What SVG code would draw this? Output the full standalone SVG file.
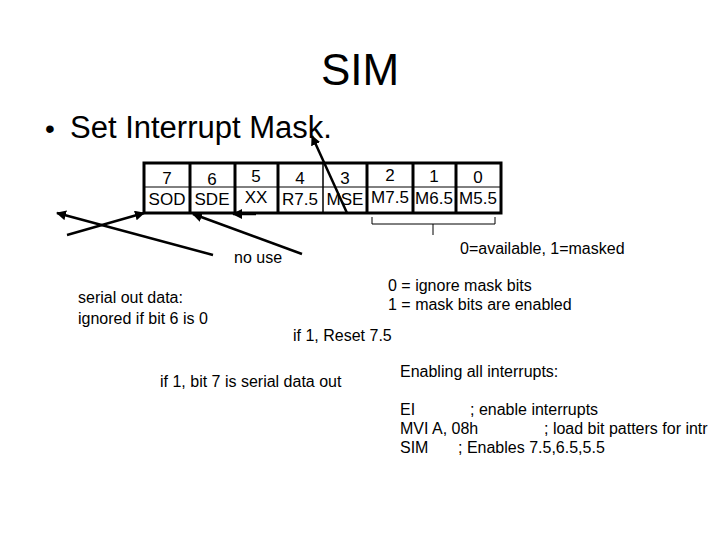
<svg xmlns="http://www.w3.org/2000/svg" width="720" height="540" viewBox="0 0 720 540">
<style>
text{font-family:"Liberation Sans",Arial,sans-serif;fill:#000}
.s{font-size:16px}
.b{font-size:17px;text-anchor:middle}
.ln{stroke:#000;stroke-width:2.5;fill:none}
.box{fill:#fff;stroke:#000;stroke-width:3}
</style>
<defs>
<marker id="ah" viewBox="0 0 10 10" refX="9" refY="5" markerWidth="4" markerHeight="4" orient="auto">
<path d="M0,0 L10,5 L0,10 z" fill="#000"/>
</marker>
</defs>
<rect width="720" height="540" fill="#fff"/>
<text x="360" y="85" font-size="44" text-anchor="middle">SIM</text>
<text x="45" y="138" font-size="28">•</text>
<text x="70" y="138" font-size="31">Set Interrupt Mask.</text>

<g id="register">
<rect class="box" x="144" y="163" width="357" height="50"/>
<line x1="144" y1="187" x2="501" y2="187" stroke="#000" stroke-width="1"/>
<g stroke="#000" stroke-width="3">
<line x1="190" y1="163" x2="190" y2="213"/>
<line x1="235" y1="163" x2="235" y2="213"/>
<line x1="278" y1="163" x2="278" y2="213"/>
<line x1="367" y1="163" x2="367" y2="213"/>
<line x1="413" y1="163" x2="413" y2="213"/>
<line x1="456" y1="163" x2="456" y2="213"/>
</g>
<line x1="323" y1="163" x2="323" y2="213" stroke="#000" stroke-width="1.5"/>
</g>
<g id="bit7"><text class="b" x="167" y="184">7</text><text class="b" x="167" y="205">SOD</text></g>
<g id="bit6"><text class="b" x="212" y="185">6</text><text class="b" x="212" y="205">SDE</text></g>
<g id="bit5"><text class="b" x="256" y="182">5</text><text class="b" x="256" y="203">XX</text></g>
<g id="bit4"><text class="b" x="300" y="184">4</text><text class="b" x="300" y="205">R7.5</text></g>
<g id="bit3"><text class="b" x="345" y="184">3</text><text class="b" x="345" y="205">MSE</text></g>
<g id="bit2"><text class="b" x="390" y="181">2</text><text class="b" x="390" y="203">M7.5</text></g>
<g id="bit1"><text class="b" x="434" y="182">1</text><text class="b" x="434" y="204">M6.5</text></g>
<g id="bit0"><text class="b" x="478" y="183">0</text><text class="b" x="478" y="204">M5.5</text></g>

<g id="connectors">
<line class="ln" x1="347" y1="213" x2="312" y2="136" marker-end="url(#ah)"/>
<line class="ln" x1="213" y1="255" x2="57" y2="213" marker-end="url(#ah)"/>
<line class="ln" x1="67" y1="235" x2="144" y2="213" marker-end="url(#ah)"/>
<line class="ln" x1="302" y1="254" x2="193" y2="214" marker-end="url(#ah)"/>
<line class="ln" x1="256" y1="214" x2="233" y2="214" marker-end="url(#ah)"/>
<path d="M372,217 V224 H495 V217 M433,224 V235" stroke="#000" stroke-width="1" fill="none"/>
</g>

<g id="labels">
<text class="s" x="460" y="254">0=available, 1=masked</text>
<text class="s" x="234" y="263">no use</text>
<text class="s" x="388" y="291">0 = ignore mask bits</text>
<text class="s" x="388" y="310">1 = mask bits are enabled</text>
<text class="s" x="78" y="303">serial out data:</text>
<text class="s" x="78" y="324">ignored if bit 6 is 0</text>
<text class="s" x="293" y="341">if 1, Reset 7.5</text>
<text class="s" x="160" y="387">if 1, bit 7 is serial data out</text>
<text class="s" x="400" y="377">Enabling all interrupts:</text>
<text class="s" x="400" y="415">EI</text>
<text class="s" x="470" y="415">; enable interrupts</text>
<text class="s" x="400" y="434">MVI A, 08h</text>
<text class="s" x="544" y="434">; load bit patters for intr</text>
<text class="s" x="400" y="453">SIM</text>
<text class="s" x="458" y="453">; Enables 7.5,6.5,5.5</text>
</g>
</svg>
